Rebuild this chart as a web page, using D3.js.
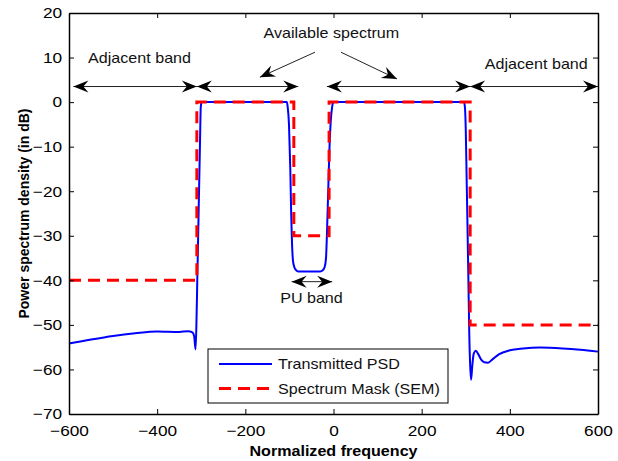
<!DOCTYPE html>
<html>
<head>
<meta charset="utf-8">
<script src="https://cdn.jsdelivr.net/npm/d3@7"></script>
<style>
  body { margin: 0; background: #fff; }
  svg { display: block; font-family: "Liberation Sans", Arial, sans-serif; }
</style>
</head>
<body>
<svg id="chart"></svg>
<script>
// transmitted PSD (freq, dB)
let psdFreq = [-600, -550, -500, -450, -400, -350, -330, -320, -316, -313, -311, -309, -306, -303, -301, -299, -290,
  -200, -110, -106, -104, -101, -98, -96, -94, -92, -89, -85, -80, -50, -30, -25, -20, -17, -15, -12, -9, -6, -3, 0,
  100, 200, 290, 296, 298, 300, 302, 304, 306, 308, 310, 312, 315, 318, 323, 328, 335, 342, 350, 360, 375, 400, 430,
  468, 520, 560, 600];
let psdVal = [-54.2, -53.3, -52.5, -51.9, -51.5, -51.6, -51.4, -51.7, -52.6, -55.5, -50, -40, -25, -10, -1, 0, 0,
  0, 0, 0, -1, -5, -15, -25, -32, -35.5, -37, -37.7, -38, -38, -38, -37.8, -37, -35, -30, -20, -10, -4, -1, 0,
  0, 0, 0, 0, -1, -6, -17, -28, -40, -52, -59, -62.3, -59, -56.5, -55.8, -56.5, -57.8, -58.4, -58.5, -57.8, -56.6,
  -55.7, -55.3, -55.1, -55.3, -55.6, -56];

// spectrum emission mask (step after)
let maskFreq = [-600, -310, -90, -10, 310, 600];
let maskVal = [-40, 0, -30, 0, -50, -50];

let xTicks = [-600, -400, -200, 0, 200, 400, 600];
let yTicks = [20, 10, 0, -10, -20, -30, -40, -50, -60, -70];

let seriesNames = ["Transmitted PSD", "Spectrum Mask (SEM)"];

// annotation arrows in data units: [x1, y1, x2, y2, heads]
let bandArrows = [
  [-590, 3.5, -310, 3.5, "both"],
  [-310, 3.5, -80, 3.5, "both"],
  [-15, 3.5, 310, 3.5, "both"],
  [310, 3.5, 600, 3.5, "both"],
  [-42, 11.2, -167, 5.6, "end"],
  [17, 11.2, 144, 5.2, "end"],
  [-95, -40.3, -3, -40.3, "both"]
];
let labels = [
  ["Adjacent band", -440, 8.7],
  ["Adjacent band", 460, 7.4],
  ["Available spectrum", -5, 14.4],
  ["PU band", -50, -45.1]
];

let width = 618;
let height = 461;
let margin = { left: 69, right: 20, top: 13, bottom: 47 };
let stretch = 1.15; // text in the picture is a bit wider than plain Arial

let svg = d3.select("#chart").attr("width", width).attr("height", height);

let xScale = d3.scaleLinear().domain([-600, 600]).range([margin.left, width - margin.right]);
let yScale = d3.scaleLinear().domain([-70, 20]).range([height - margin.bottom, margin.top]);

let x0 = margin.left, x1 = width - margin.right;
let y0 = height - margin.bottom, y1 = margin.top;

// text placed at (x,y) and widened a little
let addText = (parent, str, x, y, size, weight) => {
  return parent.append("text")
    .attr("transform", "translate(" + x + "," + y + ") scale(" + stretch + ",1)")
    .attr("text-anchor", "middle").attr("font-size", size)
    .attr("font-weight", weight || "normal").attr("fill", "#111")
    .text(str);
};

// curves
let psd = psdFreq.map((f, i) => [f, psdVal[i]]);
let mask = maskFreq.map((f, i) => [f, maskVal[i]]);

let line = d3.line().x(d => xScale(d[0])).y(d => yScale(d[1])).curve(d3.curveMonotoneX);
let stepLine = d3.line().x(d => xScale(d[0])).y(d => yScale(d[1])).curve(d3.curveStepAfter);

svg.append("path")
  .attr("d", line(psd))
  .attr("fill", "none")
  .attr("stroke", "#0000ff")
  .attr("stroke-width", 2);

svg.append("path")
  .attr("d", stepLine(mask))
  .attr("fill", "none")
  .attr("stroke", "#ff0000")
  .attr("stroke-width", 3)
  .attr("stroke-dasharray", "12,7");

// axes (matlab style box, ticks inside)
let fmt = d => String(d).replace("-", "\u2212");
let xAxis = d3.axisBottom(xScale).tickValues(xTicks).tickSizeInner(-5).tickSizeOuter(0).tickPadding(11).tickFormat(fmt);
let yAxis = d3.axisLeft(yScale).tickValues(yTicks).tickSizeInner(-5).tickSizeOuter(0).tickPadding(6).tickFormat(fmt);

svg.append("g").attr("transform", "translate(0," + y0 + ")").call(xAxis);
svg.append("g").attr("transform", "translate(" + x0 + ",0)").call(yAxis);
svg.append("g").attr("transform", "translate(0," + y1 + ")")
  .call(d3.axisTop(xScale).tickValues(xTicks).tickSizeInner(-5).tickSizeOuter(0).tickFormat(""));
svg.append("g").attr("transform", "translate(" + x1 + ",0)")
  .call(d3.axisRight(yScale).tickValues(yTicks).tickSizeInner(-5).tickSizeOuter(0).tickFormat(""));

svg.selectAll(".domain").attr("stroke", "#000").attr("stroke-width", 1.5);
svg.selectAll(".tick line").attr("stroke", "#000");
svg.selectAll(".tick text").attr("font-size", 15).attr("fill", "#000")
  .attr("font-family", "Liberation Sans, Arial, sans-serif")
  .attr("transform", "scale(" + stretch + ",1)");

addText(svg, "Normalized frequency", (x0 + x1) / 2, 456, 14, "bold").attr("fill", "#000");

svg.append("text")
  .attr("transform", "translate(29," + ((y0 + y1) / 2) + ") rotate(-90)")
  .attr("text-anchor", "middle").attr("font-size", 14).attr("font-weight", "bold")
  .text("Power spectrum density (in dB)");

// arrowheads
let head = (x, y, ang) => {
  let L = 15, W = 6, B = 10;
  let pts = [[0, 0], [-L, -W], [-B, 0], [-L, W]];
  let c = Math.cos(ang), s = Math.sin(ang);
  return "M" + pts.map(p => [x + p[0] * c - p[1] * s, y + p[0] * s + p[1] * c].join(",")).join("L") + "Z";
};

let ann = svg.append("g");
bandArrows.forEach(a => {
  let ax = xScale(a[0]), ay = yScale(a[1]), bx = xScale(a[2]), by = yScale(a[3]);
  let ang = Math.atan2(by - ay, bx - ax);
  ann.append("line").attr("x1", ax).attr("y1", ay).attr("x2", bx).attr("y2", by)
    .attr("stroke", "#222").attr("stroke-width", 1);
  ann.append("path").attr("d", head(bx, by, ang)).attr("fill", "#000");
  if (a[4] === "both") {
    ann.append("path").attr("d", head(ax, ay, ang + Math.PI)).attr("fill", "#000");
  }
});

labels.forEach(l => addText(ann, l[0], xScale(l[1]), yScale(l[2]), 14));

// legend
let legend = svg.append("g").attr("transform", "translate(208,349)");
legend.append("rect").attr("width", 240).attr("height", 54)
  .attr("fill", "#fff").attr("stroke", "#000").attr("stroke-width", 1);
let legendStyles = [
  { color: "#0000ff", w: 2, dash: null },
  { color: "#ff0000", w: 3, dash: "12,7" }
];
seriesNames.forEach((name, i) => {
  let ly = 15 + i * 24.5;
  legend.append("line").attr("x1", 11).attr("x2", 64).attr("y1", ly).attr("y2", ly)
    .attr("stroke", legendStyles[i].color).attr("stroke-width", legendStyles[i].w)
    .attr("stroke-dasharray", legendStyles[i].dash);
  addText(legend, name, 70, ly + 5, 14).attr("text-anchor", "start");
});
</script>
</body>
</html>
